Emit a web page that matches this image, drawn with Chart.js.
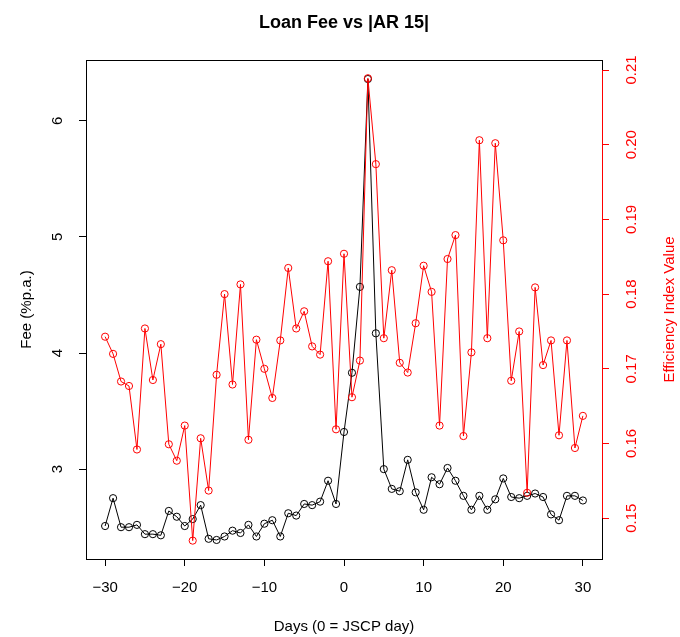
<!DOCTYPE html>
<html>
<head>
<meta charset="utf-8">
<script src="https://cdn.jsdelivr.net/npm/chart.js@4"></script>
<style>
  html, body { margin: 0; padding: 0; background: #fff; }
</style>
</head>
<body>
<canvas id="myChart" width="680" height="637"></canvas>
<script>
// days around the JSCP day
let days = [
  -30, -29, -28, -27, -26, -25, -24, -23, -22, -21,
  -20, -19, -18, -17, -16, -15, -14, -13, -12, -11,
  -10, -9, -8, -7, -6, -5, -4, -3, -2, -1,
  0, 1, 2, 3, 4, 5, 6, 7, 8, 9,
  10, 11, 12, 13, 14, 15, 16, 17, 18, 19,
  20, 21, 22, 23, 24, 25, 26, 27, 28, 29,
  30
];

// loan fee (%p.a.), left axis
let fee = [
  2.51, 2.75, 2.50, 2.50, 2.52, 2.44, 2.44, 2.43, 2.64, 2.59,
  2.51, 2.57, 2.69, 2.40, 2.39, 2.42, 2.47, 2.45, 2.52, 2.42,
  2.53, 2.56, 2.42, 2.62, 2.60, 2.70, 2.69, 2.72, 2.90, 2.70,
  3.32, 3.83, 4.57, 6.36, 4.17, 3.00, 2.83, 2.81, 3.08, 2.80,
  2.65, 2.93, 2.87, 3.01, 2.90, 2.77, 2.65, 2.77, 2.65, 2.74,
  2.92, 2.76, 2.75, 2.77, 2.79, 2.76, 2.61, 2.56, 2.77, 2.77,
  2.73
];

// efficiency index |AR 15|, right axis
let eff = [
  0.1743, 0.1720, 0.1683, 0.1677, 0.1592, 0.1754, 0.1685, 0.1733, 0.1599, 0.1577,
  0.1624, 0.1470, 0.1607, 0.1537, 0.1692, 0.1800, 0.1679, 0.1813, 0.1605, 0.1739,
  0.1700, 0.1661, 0.1738, 0.1835, 0.1754, 0.1777, 0.1730, 0.1719, 0.1844, 0.1619,
  0.1854, 0.1662, 0.1711, 0.2089, 0.1974, 0.1741, 0.1832, 0.1708, 0.1695, 0.1761,
  0.1838, 0.1803, 0.1624, 0.1847, 0.1879, 0.1610, 0.1722, 0.2006, 0.1741, 0.2002,
  0.1872, 0.1684, 0.1750, 0.1534, 0.1809, 0.1705, 0.1738, 0.1611, 0.1738, 0.1594,
  0.1637
];

// tick labels
let xTicks = [-30, -20, -10, 0, 10, 20, 30];
let feeTicks = [3, 4, 5, 6];
let effTicks = [0.15, 0.16, 0.17, 0.18, 0.19, 0.20, 0.21];

const FONT = '"Liberation Sans", Arial, Helvetica, sans-serif';

function toPoints(ys) {
  return days.map((d, i) => ({ x: d, y: ys[i] }));
}

function setTicks(list) {
  return function (scale) {
    scale.ticks = list.map(v => ({ value: v }));
  };
}

// R style box round the plot, red axis line on the right, right axis title
let framePlugin = {
  id: 'frame',
  afterDraw(chart) {
    const ctx = chart.ctx;
    const a = chart.chartArea;
    const y1 = chart.scales.y1;
    ctx.save();
    ctx.lineWidth = 1;
    ctx.strokeStyle = '#000';
    ctx.strokeRect(Math.round(a.left) + 0.5, Math.round(a.top) + 0.5,
      Math.round(a.right - a.left), Math.round(a.bottom - a.top));
    ctx.strokeStyle = '#ff0000';
    ctx.beginPath();
    ctx.moveTo(Math.round(a.right) + 0.5, y1.getPixelForValue(effTicks[effTicks.length - 1]));
    ctx.lineTo(Math.round(a.right) + 0.5, y1.getPixelForValue(effTicks[0]));
    ctx.stroke();

    ctx.translate(670, (a.top + a.bottom) / 2);
    ctx.rotate(-Math.PI / 2);
    ctx.fillStyle = '#ff0000';
    ctx.font = '15px ' + FONT;
    ctx.textAlign = 'center';
    ctx.textBaseline = 'middle';
    ctx.fillText('Efficiency Index Value', 0, 0);
    ctx.restore();
  }
};

let data = {
  datasets: [{
    label: 'Efficiency Index Value',
    data: toPoints(eff),
    yAxisID: 'y1',
    borderColor: '#ff0000',
    borderWidth: 1,
    pointRadius: 3.6,
    pointBorderWidth: 1,
    pointBorderColor: '#ff0000',
    pointBackgroundColor: 'rgba(0,0,0,0)',
    tension: 0,
    order: 0
  }, {
    label: 'Fee (%p.a.)',
    data: toPoints(fee),
    yAxisID: 'y',
    borderColor: '#000000',
    borderWidth: 1,
    pointRadius: 3.6,
    pointBorderWidth: 1,
    pointBorderColor: '#000000',
    pointBackgroundColor: 'rgba(0,0,0,0)',
    tension: 0,
    order: 1
  }]
};

let config = {
  type: 'line',
  data: data,
  plugins: [framePlugin],
  options: {
    responsive: false,
    animation: false,
    devicePixelRatio: 1,
    layout: { padding: 0 },
    plugins: {
      legend: { display: false },
      tooltip: { enabled: false },
      title: {
        display: true,
        text: 'Loan Fee vs |AR 15|',
        color: '#000',
        fullSize: false,
        font: { family: FONT, size: 18, weight: 'bold' },
        padding: { top: 12.4, bottom: 26 }
      }
    },
    scales: {
      x: {
        type: 'linear',
        position: 'bottom',
        min: -32.4,
        max: 32.4,
        afterBuildTicks: setTicks(xTicks),
        afterFit: s => { s.height = 78; },
        grid: { display: true, drawOnChartArea: false, drawTicks: true, tickLength: 7, color: '#000' },
        border: { display: false },
        ticks: {
          color: '#000',
          font: { family: FONT, size: 15 },
          padding: 13,
          maxRotation: 0,
          autoSkip: false,
          callback: v => (v < 0 ? '\u2212' + Math.abs(v) : String(v))
        },
        title: {
          display: true,
          text: 'Days (0 = JSCP day)',
          color: '#000',
          font: { family: FONT, size: 15 },
          padding: { top: 0, bottom: 1 }
        }
      },
      y: {
        type: 'linear',
        position: 'left',
        min: 2.226,
        max: 6.524,
        afterBuildTicks: setTicks(feeTicks),
        afterFit: s => { s.width = 86; },
        grid: { display: true, drawOnChartArea: false, drawTicks: true, tickLength: 7, color: '#000' },
        border: { display: false },
        ticks: {
          color: '#000',
          font: { family: FONT, size: 15 },
          padding: 17,
          minRotation: 90,
          maxRotation: 90,
          crossAlign: 'center',
          autoSkip: false,
          callback: v => String(v)
        },
        title: {
          display: true,
          text: 'Fee (%p.a.)',
          color: '#000',
          font: { family: FONT, size: 15 },
          padding: { top: 18, bottom: 0 }
        }
      },
      y1: {
        type: 'linear',
        position: 'right',
        min: 0.14454,
        max: 0.21134,
        afterBuildTicks: setTicks(effTicks),
        afterFit: s => { s.width = 78; },
        grid: { display: true, drawOnChartArea: false, drawTicks: true, tickLength: 7, color: '#ff0000' },
        border: { display: false },
        ticks: {
          color: '#ff0000',
          font: { family: FONT, size: 15 },
          padding: 8.4,
          minRotation: 90,
          maxRotation: 90,
          crossAlign: 'center',
          autoSkip: false,
          callback: v => v.toFixed(2)
        },
        title: { display: false }
      }
    }
  }
};

let lineChart = new Chart(document.getElementById('myChart'), config);
</script>
</body>
</html>
